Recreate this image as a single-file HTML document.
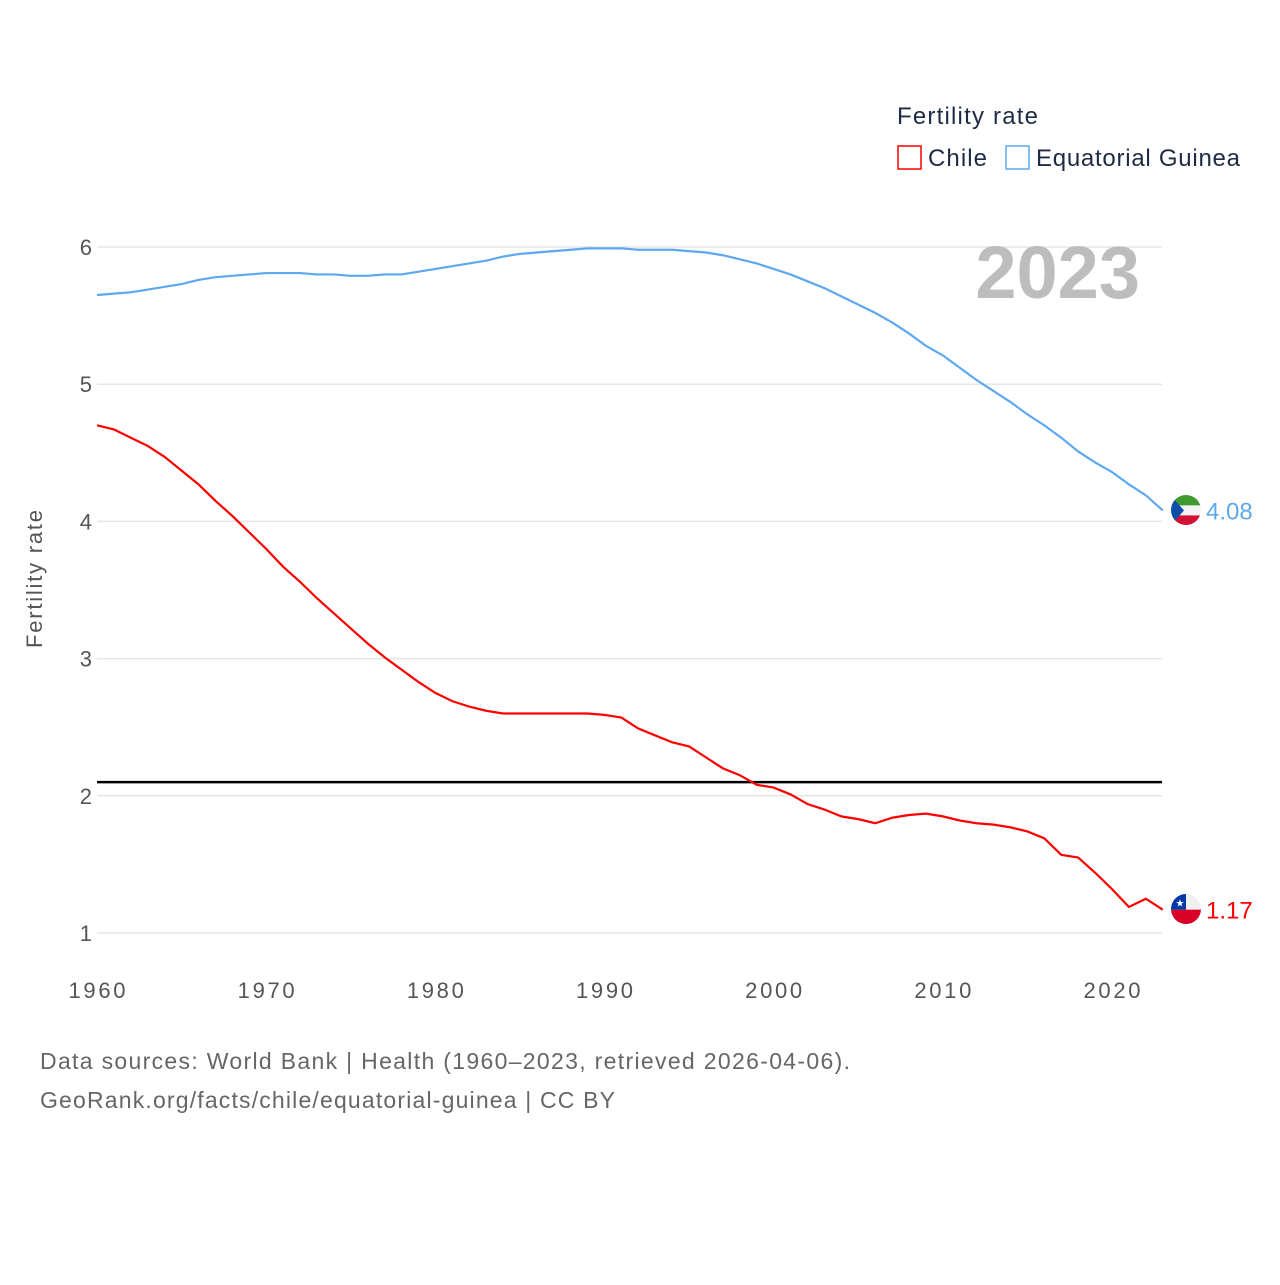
<!DOCTYPE html>
<html><head><meta charset="utf-8"><style>
body{margin:0;background:#fff;}
svg text{font-family:"Liberation Sans",sans-serif;}
</style></head><body>
<svg width="1280" height="1280" viewBox="0 0 1280 1280">
<defs>
<clipPath id="flagclip-chile"><circle cx="1186" cy="909" r="15"/></clipPath>
<clipPath id="flagclip-eqg"><circle cx="1186" cy="510" r="15"/></clipPath>
</defs>
<g id="grid"></g>
<g id="lines"></g>
<text x="1140" y="298" text-anchor="end" font-size="74" font-weight="bold" fill="#bdbdbd">2023</text>
<text x="897" y="124" font-size="24" fill="#1d2b44" textLength="141">Fertility rate</text>
<g><rect x="898" y="146" width="23" height="23" fill="none" stroke="#f00" stroke-width="1.5"/><text x="928" y="166" font-size="24" fill="#1d2b44" textLength="59">Chile</text></g>
<g><rect x="1006" y="146" width="23" height="23" fill="none" stroke="#5ea8f0" stroke-width="1.5"/><text x="1036" y="166" font-size="24" fill="#1d2b44" textLength="204">Equatorial Guinea</text></g>
<text transform="translate(42,579) rotate(-90)" text-anchor="middle" font-size="22" fill="#555" textLength="138">Fertility rate</text>
<text x="40" y="1069" font-size="23" fill="#666" textLength="810">Data sources: World Bank | Health (1960–2023, retrieved 2026-04-06).</text>
<text x="40" y="1108" font-size="23" fill="#666" textLength="575">GeoRank.org/facts/chile/equatorial-guinea | CC BY</text>
</svg>
<script>
const years=[];for(let y=1960;y<=2023;y++)years.push(y);
const chile=[4.70,4.67,4.61,4.55,4.47,4.37,4.27,4.15,4.04,3.92,3.80,3.67,3.56,3.44,3.33,3.22,3.11,3.01,2.92,2.83,2.75,2.69,2.65,2.62,2.60,2.60,2.60,2.60,2.60,2.60,2.59,2.57,2.49,2.44,2.39,2.36,2.28,2.20,2.15,2.08,2.06,2.01,1.94,1.90,1.85,1.83,1.80,1.84,1.86,1.87,1.85,1.82,1.80,1.79,1.77,1.74,1.69,1.57,1.55,1.44,1.32,1.19,1.25,1.17];
const eqg=[5.65,5.66,5.67,5.69,5.71,5.73,5.76,5.78,5.79,5.80,5.81,5.81,5.81,5.80,5.80,5.79,5.79,5.80,5.80,5.82,5.84,5.86,5.88,5.90,5.93,5.95,5.96,5.97,5.98,5.99,5.99,5.99,5.98,5.98,5.98,5.97,5.96,5.94,5.91,5.88,5.84,5.80,5.75,5.70,5.64,5.58,5.52,5.45,5.37,5.28,5.21,5.12,5.03,4.95,4.87,4.78,4.70,4.61,4.51,4.43,4.36,4.27,4.19,4.08];
const yTicks=[1,2,3,4,5,6];
const xTicks=[1960,1970,1980,1990,2000,2010,2020];
const refLine=2.1;
const NS="http://www.w3.org/2000/svg";
const X=y=>97+(y-1960)*(1112-97)/60;
const Y=v=>933-(v-1)*(933-247)/5;
function mk(t,a,p){const e=document.createElementNS(NS,t);for(const k in a)e.setAttribute(k,a[k]);p.appendChild(e);return e;}
const g=document.getElementById('grid'),L=document.getElementById('lines');
yTicks.forEach(v=>{
 const l=mk('line',{x1:97,x2:1162,y1:Y(v),y2:Y(v),stroke:'#e6e6e6','stroke-width':1.5},g);
 
 
 const t=mk('text',{x:92,y:Y(v)+8,'text-anchor':'end','font-size':22,fill:'#555'},g);t.textContent=v;
 
 
});
xTicks.forEach(v=>{
 const t=mk('text',{x:X(v),y:998,'text-anchor':'middle','font-size':22,fill:'#555',textLength:57},g);t.textContent=v;
 
 
});
const rl=mk('line',{x1:97,x2:1162,y1:Y(refLine),y2:Y(refLine),stroke:'#000','stroke-width':2.5},L);


function series(vals,col,name,clip,flag){
 const p=mk('polyline',{points:vals.map((v,i)=>X(years[i])+','+Y(v)).join(' '),fill:'none',stroke:col,'stroke-width':2.2},L);
 
 
 const last=vals[vals.length-1];
 const cy=Y(last);
 const f=mk('g',{'clip-path':'url(#'+clip+')'},L);
 
 
 flag(f,cy);
 const t=mk('text',{x:1206,y:cy+9,'font-size':24,fill:col},L);t.textContent=last.toFixed(2);
 
 
}
series(eqg,'#5ea8f0','equatorial-guinea','flagclip-eqg',(f,cy)=>{
 mk('rect',{x:1170,y:cy-16,width:32,height:11,fill:'#3e9a2e'},f);
 mk('rect',{x:1170,y:cy-5,width:32,height:10,fill:'#f4f4f4'},f);
 mk('rect',{x:1170,y:cy+5,width:32,height:12,fill:'#d21034'},f);
 mk('polygon',{points:`1170,${cy-16} 1184,${cy} 1170,${cy+16}`,fill:'#0b4fa8'},f);
});
series(chile,'#f00','chile','flagclip-chile',(f,cy)=>{
 mk('rect',{x:1170,y:cy-16,width:32,height:16,fill:'#f0f0f0'},f);
 mk('rect',{x:1170,y:cy,width:32,height:17,fill:'#d80027'},f);
 mk('rect',{x:1170,y:cy-16,width:16,height:16,fill:'#0039a6'},f);
 const s=mk('text',{x:1180,y:cy-3,'font-size':10,fill:'#fff','text-anchor':'middle'},f);s.textContent='★';
});
</script>
</body></html>
